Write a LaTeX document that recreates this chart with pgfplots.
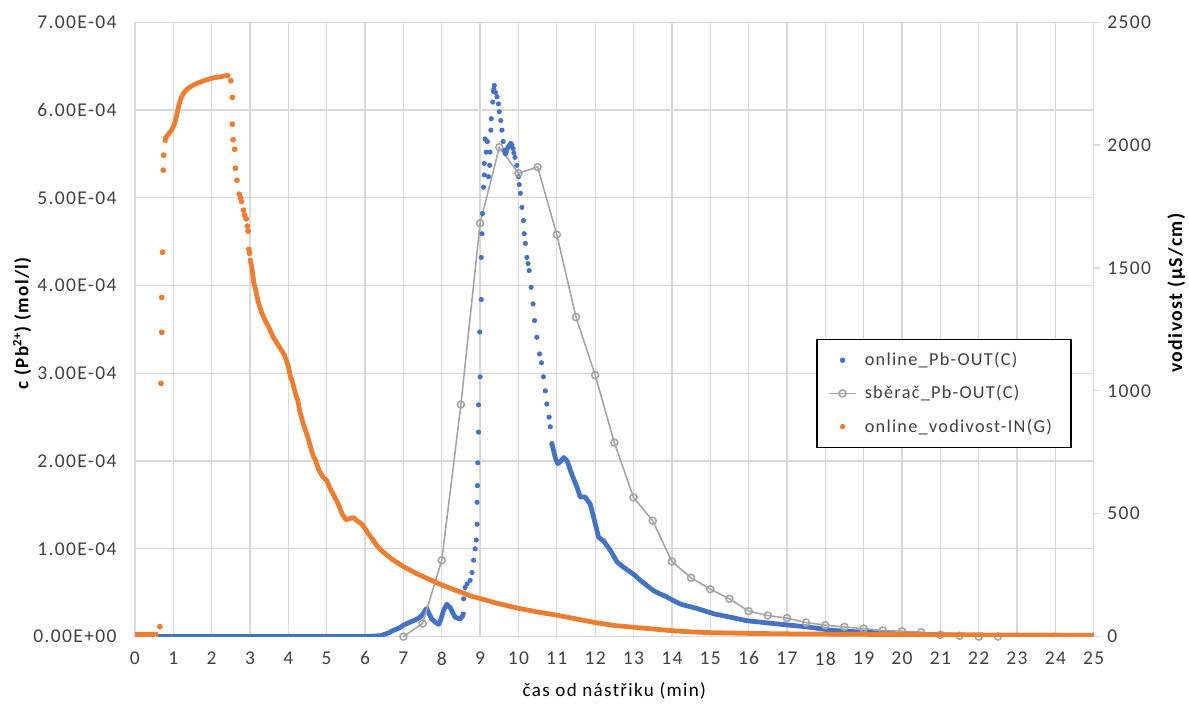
\documentclass[border=0pt]{standalone}
\usepackage{pgfplots}
\pgfplotsset{compat=1.18}
\usepackage{fontspec}
\setmainfont{Carlito}[LetterSpace=7]

\definecolor{xlblue}{HTML}{4472C4}
\definecolor{xlorange}{HTML}{ED7D31}
\definecolor{xlgray}{HTML}{A5A5A5}
\definecolor{gridc}{HTML}{D9D9D9}
\definecolor{txt}{HTML}{404040}

\pgfplotsset{
  every axis/.append style={
    scale only axis, width=604pt, height=387pt,
    xmin=0, xmax=25,
    font=\fontsize{12.3}{14}\selectfont\color{txt},
    /pgf/number format/assume math mode=true,
  },
}

\begin{document}
\begin{tikzpicture}
% left axis: c(Pb2+) in units of 1e-4 mol/l
\begin{axis}[
  name=main,
  ymin=0, ymax=7,
  xtick distance=1, ytick distance=1,
  yticklabels={0.00E+00,1.00E-04,2.00E-04,3.00E-04,4.00E-04,5.00E-04,6.00E-04,7.00E-04},
  ytick={0,1,2,3,4,5,6,7},
  grid=major, grid style={gridc, line width=0.8pt},
  axis line style={gridc, line width=0.8pt},
  major tick length=0pt,
  xticklabel style={yshift=-6pt},
  yticklabel style={xshift=-8pt},
  xlabel={čas od nástřiku (min)},
  ylabel={\bfseries c (Pb\textsuperscript{2+}) (mol/l)},
  every axis x label/.style={at={(rel axis cs:0.5,0)}, yshift=-34pt, anchor=center,
    font=\fontsize{12}{14}\selectfont},
  every axis y label/.style={at={(rel axis cs:0,0.51)}, xshift=-71pt, rotate=90, anchor=center,
    font=\fontsize{12}{14}\selectfont},
  legend style={at={(axis cs:17.77,3.39)}, anchor=north west, draw=black, line width=0.8pt,
    fill=white, inner xsep=7pt, inner ysep=6pt, row sep=7pt,
    font=\fontsize{11.5}{13}\selectfont\color{txt},
    nodes={inner xsep=5pt}},
  legend cell align=left,
]
% online_Pb-OUT(C): dense parts as a thick trace, sparse parts as dots
\addplot[forget plot, xlblue, line width=3pt, line join=round] coordinates {
(0.6,0)(1,0)(2,0)(3,0)(4,0)(5,0)(6.0,0.0)(6.2,0.005)(6.4,0.01)(6.6,0.04)(6.74,0.07)
(6.9,0.1)(7.0,0.13)(7.15,0.16)(7.26,0.18)(7.4,0.21)(7.48,0.24)(7.57,0.3)(7.61,0.32)
(7.66,0.27)(7.74,0.2)(7.84,0.16)(7.92,0.14)(7.98,0.2)(8.05,0.3)(8.13,0.37)(8.22,0.33)
(8.3,0.26)(8.35,0.22)(8.48,0.2)(8.55,0.24)(8.57,0.28)
};
\addplot[forget plot, only marks, mark=*, mark size=1.4pt, xlblue] coordinates {
(8.57,0.43)(8.61,0.56)(8.66,0.6)(8.74,0.64)(8.79,0.73)(8.83,0.87)(8.87,1.0)(8.9,1.1)
(8.92,1.28)(8.92,1.53)(8.93,1.72)(8.94,1.98)(8.96,2.33)(8.96,2.64)(9.0,2.96)(8.99,3.47)
(9.03,3.84)(9.03,4.32)(9.05,4.59)(9.06,4.82)(9.09,5.12)(9.11,5.26)(9.11,5.39)(9.16,5.52)
(9.13,5.67)(9.19,5.64)(9.22,5.24)(9.25,5.37)(9.26,5.52)(9.28,5.77)(9.29,5.9)(9.33,6.09)
(9.35,6.21)(9.37,6.28)(9.36,6.24)(9.4,6.2)(9.44,6.15)(9.48,6.07)(9.5,5.98)(9.54,5.88)
(9.57,5.77)(9.6,5.64)(9.63,5.54)(9.66,5.5)(9.68,5.52)(9.71,5.56)(9.74,5.58)(9.77,5.6)
(9.8,5.62)(9.83,5.6)(9.86,5.56)(9.88,5.51)(9.91,5.46)(9.96,5.37)(10.0,5.24)(10.02,5.15)
(10.05,5.05)(10.09,4.89)(10.13,4.74)(10.15,4.59)(10.18,4.48)(10.22,4.32)(10.25,4.25)
(10.28,4.17)(10.33,3.98)(10.38,3.79)(10.42,3.6)(10.48,3.41)(10.55,3.22)(10.6,3.12)
(10.65,2.96)(10.7,2.8)(10.74,2.65)(10.8,2.5)(10.83,2.39)(10.87,2.2)
};
\addplot[forget plot, xlblue, line width=3pt, line join=round] coordinates {
(10.87,2.2)(10.96,2.04)(11.02,1.97)(11.09,1.99)(11.18,2.04)(11.27,2.0)(11.39,1.85)
(11.53,1.7)(11.61,1.59)(11.74,1.59)(11.87,1.51)(11.96,1.36)(12.09,1.13)(12.22,1.09)
(12.4,0.98)(12.57,0.85)(12.74,0.79)(13.0,0.71)(13.18,0.64)(13.53,0.52)(13.87,0.45)
(14.22,0.37)(14.66,0.32)(15.09,0.26)(15.53,0.22)(15.96,0.18)(16.4,0.16)(16.83,0.14)
(17.53,0.11)(18.2,0.07)(19,0.05)(20,0.03)(21,0.02)(22,0.01)(22.9,0.01)
};
% sběrač_Pb-OUT(C)
\addplot[forget plot, xlgray, line width=1pt, mark=o, mark size=2.2pt] coordinates {
(7,0)(7.5,0.15)(8,0.87)(8.5,2.645)(9,4.71)(9.5,5.575)(10,5.28)(10.5,5.35)(11,4.58)
(11.5,3.64)(12,2.98)(12.5,2.21)(13,1.585)(13.5,1.32)(14,0.855)(14.5,0.67)(15,0.54)
(15.5,0.43)(16,0.29)(16.5,0.24)(17,0.21)(17.5,0.16)(18,0.13)(18.5,0.11)(19,0.09)
(19.5,0.07)(20,0.06)(20.5,0.05)(21,0.02)(21.5,0.01)(22,0)(22.5,0)
};
\addlegendimage{only marks, mark=*, mark size=1.3pt, xlblue}
\addlegendentry{online\_Pb-OUT(C)}
\addlegendimage{xlgray, line width=1pt, mark=o, mark size=2.2pt}
\addlegendentry{sběrač\_Pb-OUT(C)}
\addlegendimage{only marks, mark=*, mark size=1.3pt, xlorange}
\addlegendentry{online\_vodivost-IN(G)}
\coordinate (bl) at (rel axis cs:0,0);
\coordinate (tr) at (rel axis cs:1,1);
\end{axis}

% right axis: conductivity
\begin{axis}[
  ymin=0, ymax=2500, ytick={0,500,1000,1500,2000,2500},
  yticklabels={0,500,1000,1500,2000,2500},
  axis x line=none, axis y line*=right,
  axis line style={gridc, line width=0.8pt},
  ytick style={gridc, line width=0.8pt}, tick align=outside, major tick length=4pt,
  yticklabel style={xshift=1pt},
  ylabel={\bfseries vodivost (µS/cm)},
  every axis y label/.style={at={(rel axis cs:1,0.559)}, xshift=52pt, rotate=90, anchor=center,
    font=\fontsize{12.5}{14}\selectfont},
]
\addplot[xlorange, line width=3pt] coordinates {(0,8)(0.2,8)(0.4,8)(0.6,10)};
\addplot[only marks, mark=*, mark size=1.6pt, xlorange] coordinates {
(0.65,40)(0.68,1030)(0.70,1238)(0.70,1380)(0.72,1564)(0.74,1898)(0.75,1959)
(2.5,2262)(2.54,2194)(2.54,2085)(2.56,2022)(2.6,1983)(2.62,1906)(2.66,1857)(2.72,1800)
(2.76,1785)(2.78,1770)(2.83,1735)(2.86,1715)(2.9,1700)(2.93,1670)(2.95,1650)(2.97,1575)
(2.99,1560)
};
\addplot[xlorange, line width=3pt, line join=round] coordinates {
(0.78,2010)(0.8,2030)(0.85,2040)(0.9,2050)(0.95,2060)(1.0,2075)(1.05,2095)(1.1,2130)
(1.15,2165)(1.2,2190)(1.25,2205)(1.3,2218)(1.4,2232)(1.5,2242)(1.6,2250)(1.7,2256)
(1.8,2262)(1.9,2267)(2.0,2272)(2.1,2275)(2.2,2277)(2.3,2280)(2.4,2284)(2.48,2280)
};
\addplot[xlorange, line width=3pt, line join=round] coordinates {
(3.0,1540)(3.05,1500)(3.1,1440)(3.15,1410)(3.2,1370)(3.3,1320)(3.4,1285)(3.5,1255)
(3.6,1220)(3.7,1195)(3.8,1170)(3.9,1145)(4.0,1100)(4.05,1060)(4.1,1040)(4.2,980)
(4.25,960)(4.3,915)(4.4,860)(4.5,815)(4.6,760)(4.65,735)(4.7,720)(4.8,676)(4.9,650)
(5.0,635)(5.1,600)(5.2,570)(5.3,540)(5.4,500)(5.5,475)(5.6,480)(5.7,484)(5.8,470)
(5.9,460)(6.0,440)(6.1,415)(6.2,395)(6.3,372)(6.4,355)(6.5,340)(6.6,328)(6.7,315)
(6.8,305)(6.9,295)(7.0,285)(7.2,268)(7.4,252)(7.6,238)(7.8,224)(8.0,210)(8.2,198)
(8.4,186)(8.6,175)(8.8,163)(9.0,155)(9.2,146)(9.4,137)(9.6,130)(9.8,122)(10.0,115)
(10.5,100)(11.0,87)(11.5,72)(12.0,57)(12.5,45)(13.0,38)(13.5,31)(14.0,24)(14.5,19)
(15.0,16)(16.0,13)(17.0,11)(18,10)(19,9)(20,8)(21,7)(22,7)(23,6)(24,6)(25,5)
};
\end{axis}
\pgfresetboundingbox
\path[use as bounding box] ([xshift=-85pt,yshift=-43.5pt]bl) rectangle ([xshift=60pt,yshift=14pt]tr);
\end{tikzpicture}
\end{document}
